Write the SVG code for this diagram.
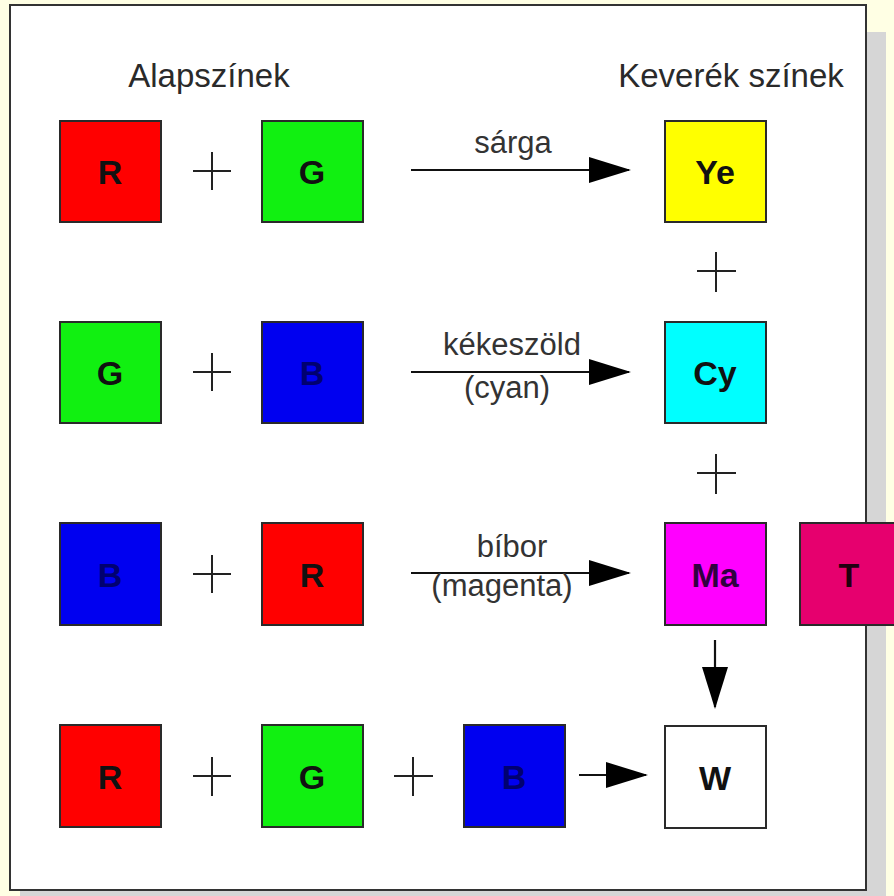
<svg xmlns="http://www.w3.org/2000/svg" width="894" height="896" viewBox="0 0 894 896">
<defs>
<style>
.box{stroke:#2a2a2a;stroke-width:2}
.lbl{font-family:"Liberation Sans",Arial,sans-serif;font-weight:bold;font-size:34px;fill:#111;text-anchor:middle}
.hdr{font-family:"Liberation Sans",Arial,sans-serif;font-size:33px;fill:#2a2a2a;text-anchor:middle}
.txt{font-family:"Liberation Sans",Arial,sans-serif;font-size:31px;fill:#333;text-anchor:middle}
.plus{stroke:#222;stroke-width:2;fill:none}
.conn{stroke:#111;stroke-width:2.2;fill:none;marker-end:url(#ah)}
</style>
<marker id="ah" markerUnits="userSpaceOnUse" markerWidth="42" markerHeight="26" viewBox="0 0 42 26" refX="40" refY="13" orient="auto">
<path d="M0,0 L42,13 L0,26 Z" fill="#000"/>
</marker>
</defs>
<rect x="0" y="0" width="894" height="896" fill="#ffffe4"/>
<rect x="20" y="32" width="866" height="880" fill="#d6d6d6"/>
<rect x="10" y="5" width="856" height="885" fill="#ffffff" stroke="#333" stroke-width="2"/>
<text class="hdr" x="209" y="87">Alapszínek</text>
<text class="hdr" x="731" y="87">Keverék színek</text>

<g id="r1-R"><rect class="box" x="60" y="121" width="101" height="101" fill="#ff0000"/><text class="lbl" x="110" y="184">R</text></g>
<g id="r1-G"><rect class="box" x="262" y="121" width="101" height="101" fill="#11f011"/><text class="lbl" x="312" y="184">G</text></g>
<g id="Ye"><rect class="box" x="665" y="121" width="101" height="101" fill="#ffff00"/><text class="lbl" x="715" y="184">Ye</text></g>

<g id="r2-G"><rect class="box" x="60" y="322" width="101" height="101" fill="#11f011"/><text class="lbl" x="110" y="385">G</text></g>
<g id="r2-B"><rect class="box" x="262" y="322" width="101" height="101" fill="#0000f0"/><text class="lbl" x="312" y="385" style="fill:#000070">B</text></g>
<g id="Cy"><rect class="box" x="665" y="322" width="101" height="101" fill="#00ffff"/><text class="lbl" x="715" y="385">Cy</text></g>

<g id="r3-B"><rect class="box" x="60" y="523" width="101" height="102" fill="#0000f0"/><text class="lbl" x="110" y="587" style="fill:#000070">B</text></g>
<g id="r3-R"><rect class="box" x="262" y="523" width="101" height="102" fill="#ff0000"/><text class="lbl" x="312" y="587">R</text></g>
<g id="Ma"><rect class="box" x="665" y="523" width="101" height="102" fill="#ff00ff"/><text class="lbl" x="715" y="587" style="fill:#300040">Ma</text></g>
<g id="T"><rect class="box" x="800" y="523" width="100" height="102" fill="#e6006e"/><text class="lbl" x="849" y="587" style="fill:#200010">T</text></g>

<g id="r4-R"><rect class="box" x="60" y="725" width="101" height="102" fill="#ff0000"/><text class="lbl" x="110" y="789">R</text></g>
<g id="r4-G"><rect class="box" x="262" y="725" width="101" height="102" fill="#11f011"/><text class="lbl" x="312" y="789">G</text></g>
<g id="r4-B"><rect class="box" x="464" y="725" width="101" height="102" fill="#0000f0"/><text class="lbl" x="514" y="789" style="fill:#000070">B</text></g>
<g id="W"><rect class="box" x="665" y="726" width="101" height="102" fill="#ffffff"/><text class="lbl" x="715" y="790">W</text></g>

<g id="plus-signs">
<path class="plus" d="M193,171 H231 M212,152 V190"/>
<path class="plus" d="M193,372 H231 M212,353 V391"/>
<path class="plus" d="M193,574 H231 M212,555 V593"/>
<path class="plus" d="M193,776 H231 M212,757 V796"/>
<path class="plus" d="M394,776 H433 M413,757 V796"/>
<path class="plus" d="M697,271 H736 M716,252 V292"/>
<path class="plus" d="M697,473 H736 M716,454 V494"/>
</g>

<g id="connectors">
<line class="conn" x1="411" y1="170" x2="629" y2="170"/>
<line class="conn" x1="411" y1="372" x2="629" y2="372"/>
<line class="conn" x1="411" y1="573" x2="629" y2="573"/>
<line class="conn" x1="579" y1="775" x2="646" y2="775"/>
<line class="conn" x1="715" y1="640" x2="715" y2="707"/>
<text class="txt" x="513" y="153">sárga</text>
<text class="txt" x="512" y="355">kékeszöld</text>
<text class="txt" x="507" y="398">(cyan)</text>
<text class="txt" x="512" y="557">bíbor</text>
<text class="txt" x="502" y="596">(magenta)</text>
</g>
</svg>
